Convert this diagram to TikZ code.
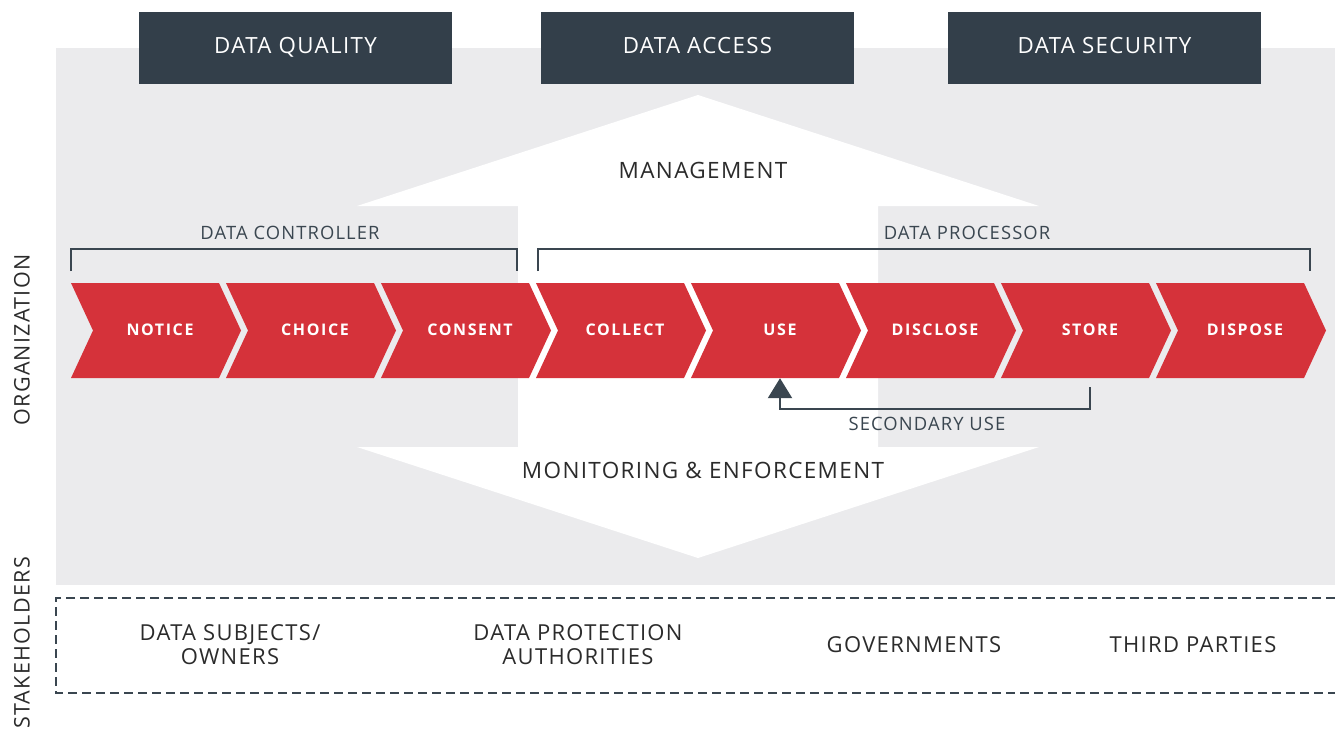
\documentclass[tikz,border=0pt]{standalone}
\usepackage{fontspec}
\setmainfont[LetterSpace=6]{Open Sans}
\newfontfamily\chevfont[LetterSpace=10]{Open Sans Bold}
\usetikzlibrary{arrows.meta}
\definecolor{boxgray}{HTML}{333F4A}
\definecolor{bggray}{HTML}{EBEBED}
\definecolor{chevred}{HTML}{D5323A}
\definecolor{linegray}{HTML}{3A4650}
\definecolor{txtgray}{HTML}{2B2B2B}
\tikzset{
  topbox/.style={fill=boxgray, text=white, minimum width=313, minimum height=72, inner sep=0, text height=16, text depth=6, font=\fontsize{22.3}{26}\selectfont},
  chevlabel/.style={text=white, minimum width=148, minimum height=95, inner sep=0, text height=11.5, text depth=2, font=\chevfont\fontsize{16}{18}\selectfont},
  biglabel/.style={text=txtgray, inner sep=0, font=\fontsize{22.5}{26}\selectfont},
  smalllabel/.style={text=linegray, inner sep=0, font=\fontsize{18.4}{22}\selectfont},
  stakelabel/.style={text=txtgray, inner sep=0, align=center, font=\fontsize{22}{24}\selectfont},
  sidelabel/.style={text=txtgray, inner sep=0, rotate=90, font=\fontsize{21.5}{24}\selectfont},
  bracket/.style={draw=linegray, line width=2.2},
}
\begin{document}
\begin{tikzpicture}[x=1pt, y=-1pt, line join=miter, >=stealth]
	\useasboundingbox (0,0) rectangle (1335,731);
	% organization background and the management / enforcement arrow
	\fill[bggray] (56,48) rectangle (1335,585);
	\fill[white] (698,95)--(1039,206)--(878,206)--(878,447)--(1039,447)--(698,558)--(357,447)--(518,447)--(518,206)--(357,206)--cycle;
	% top boxes
	\foreach \nm/\x/\txt in {quality/295.5/DATA QUALITY, access/697.5/DATA ACCESS, security/1104.5/DATA SECURITY}
		\node[topbox] (\nm) at (\x,48) {\txt};
	\node[biglabel] (mgmt) at (703,170) {MANAGEMENT};
	\node[biglabel] (monitor) at (703,470) {MONITORING \& ENFORCEMENT};
	% controller / processor brackets
	\coordinate (c1) at (71,271);
	\coordinate (c2) at (517,249);
	\coordinate (p1) at (538,271);
	\coordinate (p2) at (1310,249);
	\draw[bracket] (c1) |- (c2) -- (c2 |- c1);
	\draw[bracket] (p1) |- (p2) -- (p2 |- p1);
	\node[smalllabel] (ctrl) at (290,233) {DATA CONTROLLER};
	\node[smalllabel] (proc) at (967,233) {DATA PROCESSOR};
	% lifecycle chevrons
	\foreach \i/\nm/\txt in {0/notice/NOTICE, 1/choice/CHOICE, 2/consent/CONSENT, 3/collect/COLLECT, 4/use/USE, 5/disclose/DISCLOSE, 6/store/STORE, 7/dispose/DISPOSE}{
		\pgfmathsetmacro{\x}{71+155*\i}
		\fill[chevred] (\x,283)--++(148,0)--++(22,47.5)--++(-22,47.5)--++(-148,0)--++(22,-47.5)--cycle;
		\node[chevlabel] (\nm) at (\x+89,330.5) {\txt};
	}
	% secondary use loop
	\draw[linegray, line width=2.2, -{Triangle[width=24, length=20]}] (store.south) ++(0,9) -- ++(0,22) -| (use.south);
	\node[smalllabel] (secuse) at (927,424) {SECONDARY USE};
	% side labels
	\node[sidelabel] (org) at (22,340) {ORGANIZATION};
	\node[sidelabel] (stake) at (22,643) {STAKEHOLDERS};
	% stakeholders
	\draw[linegray, line width=2, dash pattern=on 9 off 5] (1335,598) -| (56,693) -- (1335,693);
	\foreach \nm/\x/\txt in {subjects/230/{DATA SUBJECTS/\\OWNERS}, authorities/578/{DATA PROTECTION\\AUTHORITIES}, govts/914/GOVERNMENTS, third/1193/{THIRD PARTIES}}
		\node[stakelabel] (\nm) at (\x,645) {\txt};
\end{tikzpicture}
\end{document}
